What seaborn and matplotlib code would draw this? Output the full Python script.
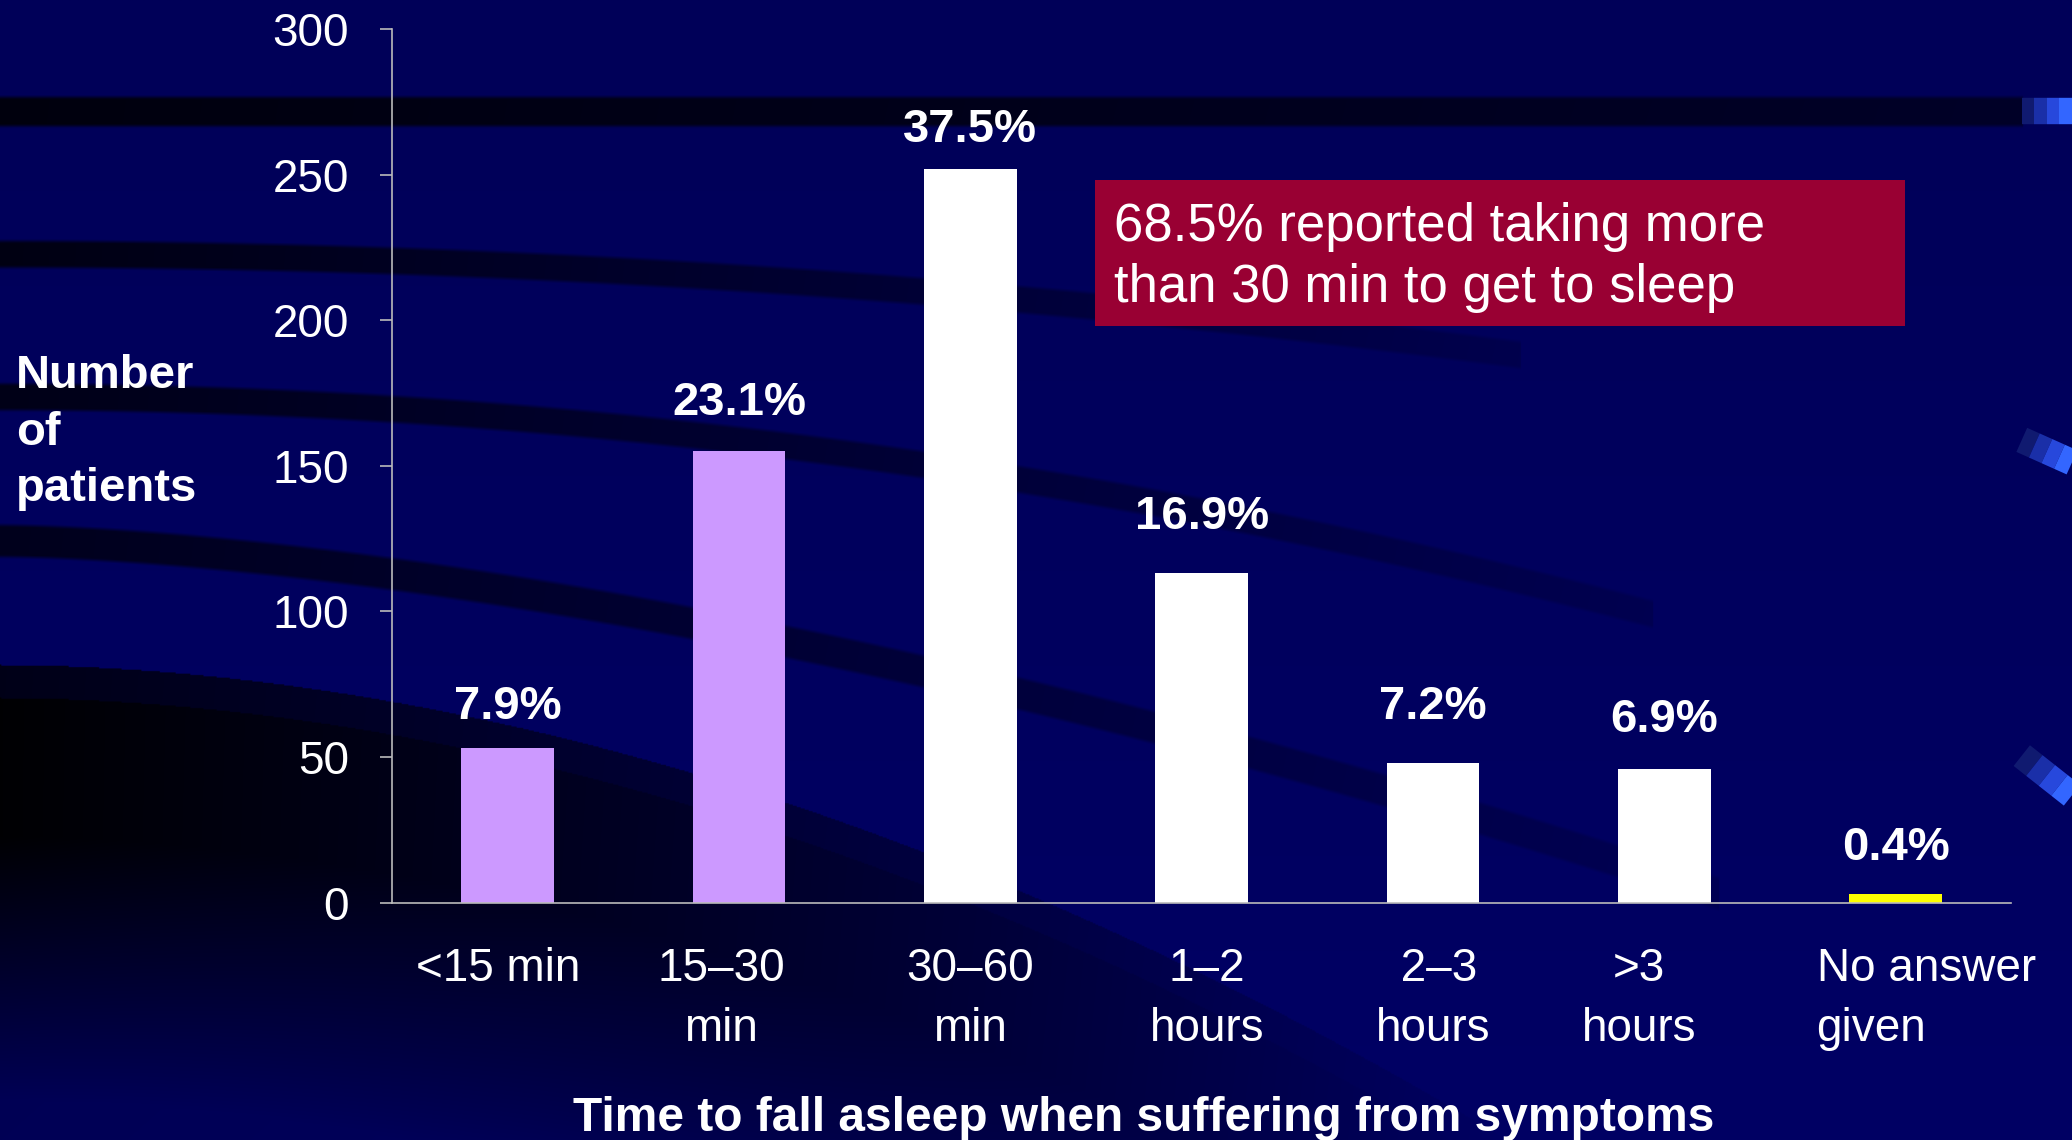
import numpy as np
import pandas as pd
import matplotlib.pyplot as plt
import seaborn as sns
from matplotlib.patches import Rectangle

# data
categories = ['<15 min', '15–30\nmin', '30–60\nmin', '1–2\nhours', ' 2–3\nhours', '>3\nhours', 'No answer\ngiven']
patients = [53, 155, 252, 113, 48, 46, 3]
percent_labels = ['7.9%', '23.1%', '37.5%', '16.9%', '7.2%', '6.9%', '0.4%']
bar_colors = ['#CC99FF', '#CC99FF', '#FFFFFF', '#FFFFFF', '#FFFFFF', '#FFFFFF', '#FFFF00']
y_ticks = [0, 50, 100, 150, 200, 250, 300]
note = '68.5% reported taking more\nthan 30 min to get to sleep'

# small layout tweaks to match the slide (points)
label_pads = [14, 19, 12, 25, 24, 19, 17]
tick_shift = [-7, -13, 0, 4, 0, -18, 22]

sns.set_style('dark')
plt.rcParams['font.family'] = ['Liberation Sans', 'DejaVu Sans']

bg_color = '#00005E'
axis_color = '#BBBBBB'

fig = plt.figure(figsize=(20.72, 11.40), dpi=100, facecolor=bg_color)

# -- slide background: navy with dark swooshes (grid in 1568x863 slide pixels)
H, W = 863, 1568
yy, xx = np.mgrid[0:H, 0:W].astype(float)
dark = np.zeros((H, W))


def band(y0, dy, p, x_end, thick, strength, fade):
    yc = y0 + dy * (xx / 833) ** p
    prof = np.clip((thick / 2 + 1.5 - np.abs(yy - yc)) / 3, 0, 1)
    f = np.clip(1 - fade * xx / x_end, 0, 1) * (xx <= x_end)
    return prof * strength * f


dark = np.maximum(dark, band(84, 0, 1, 1530, 22, 0.85, 0.35))
dark = np.maximum(dark, band(192, 40, 2, 1150, 20, 0.8, 0.8))
dark = np.maximum(dark, band(300, 73, 2, 1250, 20, 0.75, 0.8))
dark = np.maximum(dark, band(409, 131, 1.6, 1300, 24, 0.7, 0.8))

# big dark sweep in the lower left
top = 503 + 198 * (xx / 833) ** 1.9
depth = yy - top
sweep = np.where(depth < 0, 0.0,
                 np.where(depth < 25, 0.75,
                          np.where(depth < 130, 0.97,
                                   np.clip(0.97 - (depth - 130) / 200 * 0.82, 0.15, 1))))
sweep *= np.clip(1 - xx / 1150, 0, 1) ** 0.8
dark = np.maximum(dark, sweep)

base = np.zeros((H, W, 3))
base[..., 2] = (0x58 + (0x64 - 0x58) * yy / H) / 255
img = base * (1 - dark)[..., None]

bg = fig.add_axes([0, 0, 1, 1], zorder=0)
bg.imshow(img, extent=(0, W, H, 0), aspect='auto', interpolation='bilinear')
bg.set_xlim(0, W)
bg.set_ylim(H, 0)
bg.axis('off')

# blue glints at the right edge
for (x0, y0, x1, y1) in [(1530, 84, 1568, 84), (1530, 333, 1568, 350), (1530, 572, 1568, 602)]:
    for k, c in enumerate(['#101a70', '#1a2fa8', '#2748dc', '#3366FF']):
        t0, t1 = k / 4, (k + 1) / 4
        bg.plot([x0 + (x1 - x0) * t0, x0 + (x1 - x0) * t1],
                [y0 + (y1 - y0) * t0, y0 + (y1 - y0) * t1],
                color=c, lw=19, solid_capstyle='butt')

# -- bar chart
ax = fig.add_axes([0.1892, 0.2083, 0.7815, 0.7663], zorder=1)
ax.patch.set_alpha(0)
df = pd.DataFrame({'time': categories, 'patients': patients})
sns.barplot(data=df, x='time', y='patients', hue='time', palette=bar_colors,
            legend=False, width=0.4, saturation=1, linewidth=0, ax=ax)

for container, lab, pad in zip(ax.containers, percent_labels, label_pads):
    ax.bar_label(container, labels=[lab], padding=pad, color='white',
                 fontsize=34, fontweight='bold')

ax.set_xlim(-0.5, len(categories) - 0.5)
ax.set_ylim(0, 300)
ax.set_yticks(y_ticks)
# ticks sit between the categories, labels are drawn under each bar
ax.set_xticks(np.arange(-0.5, len(categories), 1))
ax.set_xticklabels([])
for i, (cat, dx) in enumerate(zip(categories, tick_shift)):
    ax.annotate(cat, xy=(i, 0), xycoords=ax.get_xaxis_transform(),
                xytext=(dx, -32), textcoords='offset points', ha='center', va='top',
                multialignment='left' if i == len(categories) - 1 else 'center',
                fontsize=33, color='white', linespacing=1.48, annotation_clip=False)
ax.tick_params(axis='x', which='major', length=9, width=1.2, color=axis_color, direction='out')
ax.tick_params(axis='y', length=9, width=1.2, color=axis_color, pad=22,
               labelsize=33, labelcolor='white', left=True)
ax.set_xlabel('')
ax.set_ylabel('')
ax.grid(False)
for side in ['top', 'right']:
    ax.spines[side].set_visible(False)
for side in ['left', 'bottom']:
    ax.spines[side].set_visible(True)
    ax.spines[side].set_color(axis_color)
    ax.spines[side].set_linewidth(1.2)

# axis titles, placed like on the slide
fig.text(0.0077, 0.6205, 'Number\nof\npatients', ha='left', va='center', color='white',
         fontsize=34, fontweight='bold', linespacing=1.36)
fig.text(0.552, 0.019, 'Time to fall asleep when suffering from symptoms', ha='center',
         va='center', color='white', fontsize=34.5, fontweight='bold')

# red call-out box
fig.patches.append(Rectangle((0.5285, 0.714), 0.391, 0.128, transform=fig.transFigure,
                             facecolor='#990033', edgecolor='none', zorder=2))
fig.text(0.5376, 0.774, note, ha='left', va='center', color='white', fontsize=38,
         linespacing=1.3, zorder=3)

fig.savefig('out.png', dpi=100, facecolor=bg_color)
